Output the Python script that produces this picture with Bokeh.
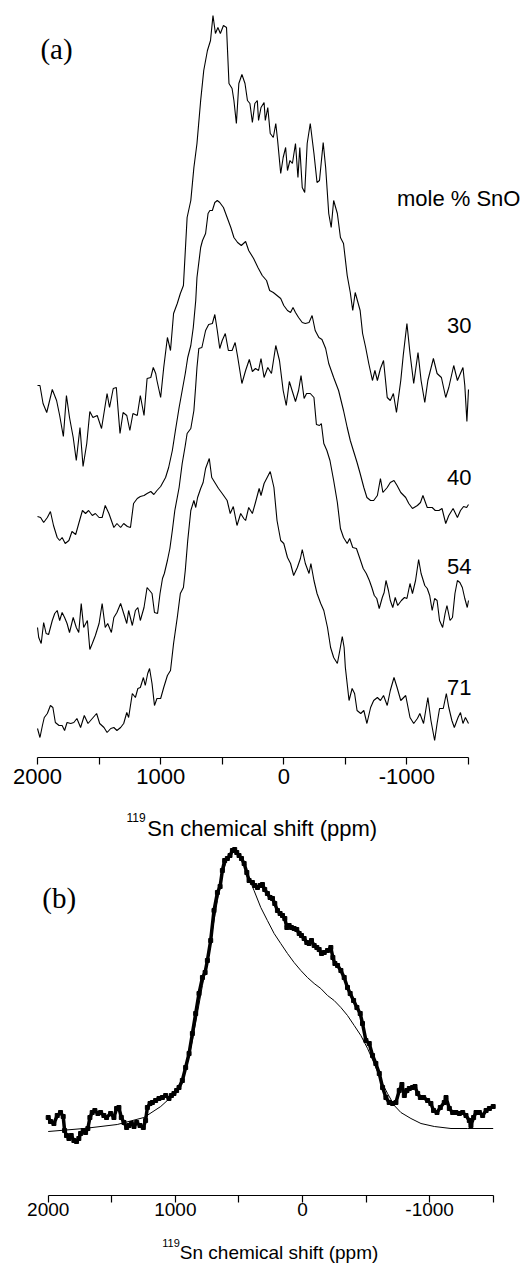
from bokeh.plotting import figure
from bokeh.models import Range1d, FixedTicker, Label
from bokeh.layouts import column
from bokeh.embed import file_html
from bokeh.resources import INLINE

SANS = "Liberation Sans"
SERIF = "Liberation Serif"
W = 526

# ---------------- data (ppm, intensity a.u.) ----------------
major_ticks = [2000, 1000, 0, -1000]
minor_ticks = [1500, 500, -500, -1500]
tick_text = {2000: "2000", 1000: "1000", 0: "0", -1000: "-1000"}

trace_30 = [(2000,372),(1980,372),(1955,354),(1925,345),(1880,368),(1845,357),(1820,342),(1790,321),(1765,362),(1740,340),(1710,320),(1685,297),(1655,330),(1630,291),(1600,314),(1575,346),(1550,340),(1515,342),(1480,329),(1435,364),(1415,350),(1385,369),(1360,370),(1330,324),(1305,345),(1275,342),(1250,327),(1225,344),(1190,342),(1165,362),(1135,342),(1110,379),(1080,380),(1060,390),(1040,384),(1030,377),(1000,360),(975,390),(945,420),(920,407),(895,444),(865,454),(840,464),(815,472),(785,540),(755,557),(730,590),(705,614),(675,657),(650,687),(620,707),(595,717),(575,742),(555,724),(535,730),(515,724),(490,732),(465,730),(445,674),(420,669),(405,657),(385,634),(365,674),(340,683),(315,674),(295,657),(275,654),(255,635),(235,654),(215,657),(205,637),(185,650),(160,655),(150,637),(130,650),(110,624),(85,620),(65,634),(50,617),(25,584),(5,600),(-15,610),(-30,587),(-50,597),(-70,594),(-95,614),(-115,580),(-130,610),(-150,570),(-170,565),(-190,614),(-215,634),(-245,604),(-270,575),(-290,577),(-320,615),(-340,590),(-365,544),(-385,530),(-405,557),(-435,544),(-460,520),(-485,514),(-515,482),(-540,465),(-560,447),(-580,465),(-620,447),(-640,424),(-665,410),(-690,394),(-720,377),(-740,387),(-760,377),(-785,389),(-810,397),(-840,360),(-865,357),(-890,364),(-915,345),(-950,377),(-970,402),(-1000,434),(-1025,404),(-1055,374),(-1090,405),(-1115,377),(-1145,355),(-1170,377),(-1215,399),(-1245,384),(-1280,380),(-1315,360),(-1340,370),(-1380,392),(-1410,377),(-1455,390),(-1470,372),(-1487,336),(-1500,368)]

trace_40 = [(2000,241),(1975,240),(1950,235),(1920,240),(1895,246),(1870,232),(1840,220),(1820,217),(1800,220),(1775,214),(1745,217),(1720,226),(1690,223),(1665,234),(1635,247),(1610,244),(1585,247),(1555,242),(1530,244),(1500,240),(1475,240),(1450,252),(1420,244),(1380,230),(1355,234),(1325,230),(1300,234),(1270,231),(1245,230),(1220,254),(1190,259),(1165,261),(1135,262),(1110,264),(1080,266),(1055,263),(1030,267),(1000,271),(960,280),(935,290),(905,307),(880,327),(850,350),(825,367),(800,384),(780,400),(755,412),(735,430),(715,457),(705,480),(675,510),(660,517),(635,524),(615,544),(600,547),(580,547),(560,555),(540,557),(520,555),(490,550),(460,540),(430,530),(405,520),(375,515),(345,512),(310,516),(285,507),(245,499),(210,490),(175,482),(140,477),(115,467),(85,465),(55,462),(25,459),(0,452),(-30,447),(-55,445),(-75,450),(-95,445),(-120,440),(-150,435),(-175,434),(-205,435),(-230,442),(-255,427),(-285,420),(-310,418),(-340,409),(-365,394),(-405,380),(-445,367),(-485,347),(-515,330),(-540,317),(-570,305),(-595,295),(-620,284),(-650,270),(-675,260),(-705,257),(-730,257),(-760,262),(-785,279),(-805,265),(-840,270),(-865,275),(-895,277),(-920,272),(-950,265),(-990,260),(-1015,254),(-1045,249),(-1085,252),(-1110,255),(-1130,262),(-1165,250),(-1205,250),(-1230,247),(-1260,247),(-1285,249),(-1315,234),(-1340,242),(-1375,249),(-1410,240),(-1435,247),(-1460,251),(-1485,250),(-1500,253)]

trace_54 = [(2000,130),(1990,120),(1970,114),(1950,135),(1930,124),(1910,123),(1880,137),(1860,144),(1840,147),(1820,137),(1800,145),(1780,140),(1760,134),(1740,125),(1710,140),(1685,130),(1665,125),(1645,154),(1625,130),(1595,137),(1575,108),(1555,114),(1530,122),(1500,134),(1475,154),(1450,130),(1430,134),(1400,125),(1380,140),(1355,145),(1325,154),(1300,144),(1275,134),(1260,147),(1230,132),(1205,147),(1185,150),(1165,137),(1135,150),(1110,170),(1090,167),(1070,164),(1050,145),(1025,144),(1005,164),(985,179),(970,184),(945,197),(925,209),(905,227),(885,247),(850,270),(825,294),(800,312),(785,324),(755,329),(730,347),(715,372),(705,390),(690,409),(665,410),(635,427),(610,433),(580,434),(560,443),(540,427),(520,409),(500,417),(475,424),(450,407),(420,407),(395,415),(375,401),(340,374),(310,387),(280,398),(255,386),(230,389),(205,387),(185,399),(160,380),(130,390),(100,384),(65,412),(35,397),(5,367),(-20,352),(-45,376),(-75,364),(-95,356),(-120,367),(-140,382),(-165,359),(-185,364),(-215,364),(-245,360),(-265,333),(-290,332),(-305,334),(-325,314),(-350,307),(-375,297),(-405,277),(-435,255),(-460,229),(-485,220),(-515,214),(-535,219),(-560,210),(-590,209),(-615,200),(-645,189),(-670,184),(-695,177),(-715,170),(-735,162),(-755,159),(-775,149),(-800,160),(-815,165),(-830,177),(-850,167),(-865,157),(-885,150),(-905,160),(-925,152),(-955,157),(-980,160),(-1000,159),(-1025,174),(-1045,164),(-1070,177),(-1095,198),(-1115,184),(-1145,172),(-1165,169),(-1185,162),(-1205,147),(-1225,159),(-1245,157),(-1265,137),(-1290,130),(-1310,144),(-1325,152),(-1350,137),(-1370,140),(-1390,164),(-1410,177),(-1430,175),(-1450,170),(-1470,159),(-1490,150),(-1500,157)]

trace_71 = [(2000,29),(1980,20),(1960,32),(1945,40),(1920,44),(1895,52),(1875,50),(1855,35),(1825,32),(1800,32),(1780,27),(1760,35),(1730,34),(1705,35),(1680,39),(1650,30),(1620,42),(1590,34),(1555,39),(1520,44),(1495,34),(1460,30),(1435,25),(1405,29),(1380,30),(1355,27),(1325,30),(1300,34),(1275,45),(1260,40),(1230,64),(1205,60),(1185,69),(1165,70),(1140,80),(1125,72),(1105,84),(1090,89),(1070,74),(1050,52),(1030,59),(1000,59),(975,70),(945,82),(920,87),(895,114),(865,140),(840,164),(815,170),(800,187),(780,217),(755,247),(730,257),(715,250),(700,260),(675,269),(655,275),(635,289),(605,299),(585,280),(555,274),(530,269),(500,264),(460,257),(435,244),(410,251),(380,232),(350,244),(325,239),(310,237),(285,250),(255,244),(230,255),(200,269),(185,262),(160,274),(135,280),(110,286),(80,270),(55,237),(25,217),(0,214),(-30,200),(-55,194),(-80,182),(-110,190),(-135,199),(-150,208),(-175,194),(-205,184),(-220,194),(-245,177),(-270,164),(-300,154),(-325,147),(-355,130),(-380,110),(-405,100),(-435,94),(-455,107),(-475,121),(-490,110),(-500,90),(-530,57),(-555,69),(-575,64),(-595,47),(-625,44),(-650,47),(-675,34),(-705,50),(-730,57),(-760,60),(-785,57),(-810,62),(-840,52),(-865,67),(-895,80),(-920,70),(-950,57),(-990,62),(-1025,40),(-1055,34),(-1085,39),(-1105,44),(-1135,34),(-1170,60),(-1195,37),(-1225,17),(-1245,34),(-1265,49),(-1295,49),(-1320,64),(-1340,50),(-1365,37),(-1385,30),(-1415,40),(-1435,45),(-1455,34),(-1475,40),(-1500,34)]

spectrum_b = [(2000,78),(1982,74),(1955,72),(1929,80),(1903,83),(1882,79),(1871,65),(1856,60),(1837,57),(1819,60),(1798,55),(1777,54),(1759,57),(1745,62),(1724,65),(1706,63),(1688,67),(1672,78),(1654,83),(1633,85),(1609,82),(1588,83),(1562,80),(1541,78),(1509,82),(1483,78),(1462,87),(1444,88),(1425,78),(1404,73),(1383,68),(1365,70),(1346,72),(1325,69),(1304,73),(1278,70),(1252,68),(1234,75),(1220,88),(1199,92),(1181,93),(1155,95),(1129,97),(1102,98),(1076,100),(1050,97),(1031,100),(1011,102),(990,105),(971,108),(945,115),(919,128),(892,142),(866,162),(840,182),(814,202),(787,218),(766,223),(748,235),(722,255),(696,285),(669,303),(648,309),(630,325),(612,335),(591,337),(570,340),(551,345),(533,346),(517,343),(499,340),(480,337),(459,332),(438,323),(420,315),(394,313),(375,310),(354,308),(333,310),(315,311),(297,306),(276,302),(255,298),(236,297),(218,292),(197,285),(176,282),(157,280),(139,277),(123,268),(105,270),(87,268),(66,267),(45,266),(26,262),(8,260),(-13,257),(-34,253),(-52,252),(-71,255),(-92,250),(-113,248),(-131,246),(-150,242),(-171,243),(-197,245),(-223,248),(-239,238),(-255,232),(-276,230),(-302,225),(-328,218),(-354,208),(-375,202),(-402,195),(-428,188),(-454,182),(-472,172),(-499,155),(-525,152),(-551,140),(-577,132),(-604,122),(-630,108),(-656,98),(-682,93),(-709,92),(-735,93),(-761,105),(-782,111),(-801,100),(-822,105),(-840,107),(-866,108),(-885,109),(-906,102),(-927,98),(-953,98),(-984,95),(-1010,92),(-1031,85),(-1058,83),(-1084,88),(-1115,93),(-1129,98),(-1155,87),(-1181,83),(-1207,83),(-1234,82),(-1260,83),(-1286,80),(-1312,75),(-1325,70),(-1346,78),(-1365,83),(-1391,83),(-1417,80),(-1444,85),(-1470,87),(-1500,89)]

fit_b = [(2000,64),(1719,67),(1457,71),(1247,78),(1115,89),(1037,98),(984,107),(945,117),(906,132),(866,155),(827,182),(787,210),(748,235),(709,265),(669,295),(630,322),(591,337),(551,344),(525,346),(499,342),(459,330),(420,317),(381,305),(328,288),(276,275),(223,262),(171,252),(118,242),(66,233),(13,225),(-39,218),(-92,212),(-144,207),(-197,200),(-249,195),(-302,188),(-354,180),(-407,170),(-459,160),(-512,147),(-564,132),(-617,115),(-669,102),(-722,90),(-774,83),(-853,77),(-932,72),(-1037,69),(-1168,67),(-1299,67),(-1500,67)]

series_a = {"30": trace_30, "40": trace_40, "54": trace_54, "71": trace_71}
series_label_y = {"30": 432, "40": 280, "54": 191, "71": 70}


def unzip(pairs):
    return [a for a, _ in pairs], [b for _, b in pairs]


def x_range_for(left_px, right_px):
    """Full-width frame; the 2000..-1500 ppm span occupies left_px..right_px."""
    ppp = 3500.0 / (right_px - left_px)
    return Range1d(2000 + left_px * ppp, -1500 - (W - right_px) * ppp)


def style_axis(p, size, standoff):
    ax = p.xaxis[0]
    ax.bounds = (-1500, 2000)
    ax.ticker = FixedTicker(ticks=major_ticks, minor_ticks=minor_ticks)
    ax.major_label_overrides = tick_text
    ax.major_tick_out = 7
    ax.major_tick_in = 0
    ax.minor_tick_out = 7
    ax.minor_tick_in = 0
    ax.axis_line_color = "black"
    ax.major_tick_line_color = "black"
    ax.minor_tick_line_color = "black"
    ax.axis_line_width = 1.2
    ax.major_tick_line_width = 1.2
    ax.minor_tick_line_width = 1.2
    ax.major_label_text_font = SANS
    ax.major_label_text_font_size = size
    ax.major_label_text_color = "black"
    ax.major_label_standoff = standoff


def base_fig(height, x_range, y_top, bottom, with_axis=True):
    p = figure(width=W, height=height, x_range=x_range,
               y_range=Range1d(0, y_top), output_backend="svg",
               toolbar_location=None, y_axis_location=None,
               x_axis_location="below" if with_axis else None,
               min_border_left=0, min_border_right=0,
               min_border_top=0, min_border_bottom=bottom)
    p.outline_line_color = None
    p.grid.grid_line_color = None
    p.background_fill_color = "white"
    p.border_fill_color = "white"
    return p


def label(p, x, y, text, font, size, align="left"):
    p.add_layout(Label(x=x, y=y, text=text, text_font=font, text_font_size=size,
                       text_align=align, text_baseline="alphabetic",
                       text_color="black"))


# ---------------- panel (a) ----------------
pa = base_fig(797, x_range_for(37, 468), 757, 40)
style_axis(pa, "22px", 4)
for name, pairs in series_a.items():
    xs, ys = unzip(pairs)
    pa.line(xs, ys, line_color="black", line_width=1.1)
    label(pa, -1524, series_label_y[name], name, SANS, "22px", "right")
label(pa, -1922, 559, "mole % SnO", SANS, "22px", "right")
label(pa, 1976, 709, "(a)", SERIF, "29px")

# ---------------- panel (b) ----------------
xr_b = x_range_for(47.7, 492.7)
pb = base_fig(432, xr_b, 398, 34)
style_axis(pb, "19px", 0)
xb, yb = unzip(spectrum_b)
xf, yf = unzip(fit_b)
pb.line(xf, yf, line_color="black", line_width=1)
pb.line(xb, yb, line_color="black", line_width=3.5)
pb.scatter(xb, yb, marker="square", size=4, color="black")
label(pb, 2047, 298, "(b)", SERIF, "29px")
# axis title of panel (a) sits in the top strip of this figure
label(pb, 1384, 378, "119", SANS, "12px")
label(pb, 1221, 367, "Sn chemical shift (ppm)", SANS, "22px")

# ---------------- axis title of panel (b) ----------------
pc = base_fig(35, xr_b, 35, 0, with_axis=False)
label(pc, 1103, 22, "119", SANS, "11px")
label(pc, 965, 12, "Sn chemical shift (ppm)", SANS, "19px")

layout = column(pa, pb, pc)
open("out.html", "w").write(file_html(layout, INLINE))
